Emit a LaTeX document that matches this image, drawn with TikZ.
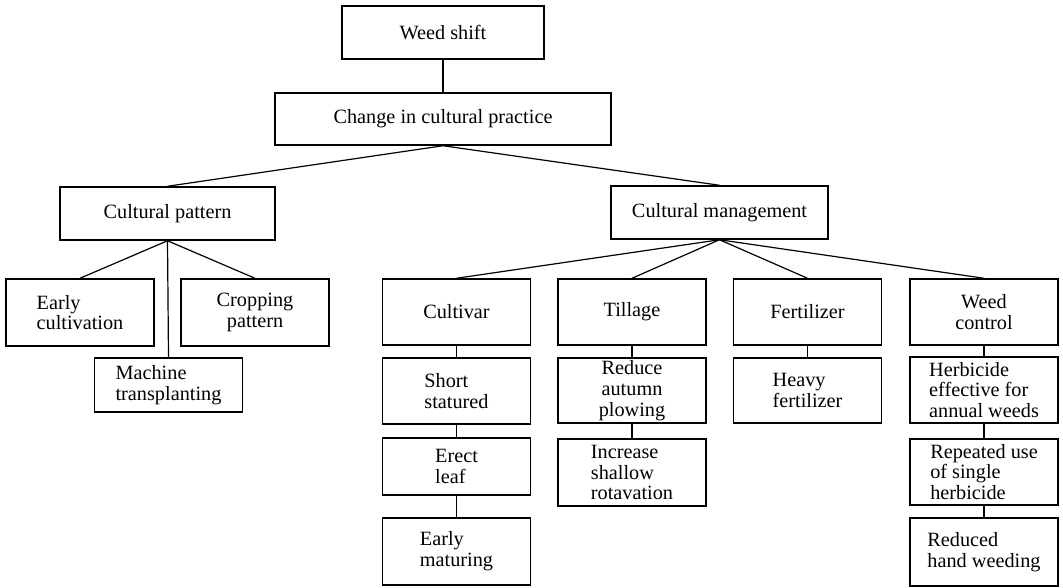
\documentclass[tikz,border=0pt]{standalone}
\usepackage{fontspec}
\setmainfont{Liberation Serif}
\usetikzlibrary{positioning}

\begin{document}
\begin{tikzpicture}[x=0.75pt,y=-0.75pt, every node/.style={font=\fontsize{15.2}{15.6}\selectfont},
  box/.style={draw,line width=1.1pt,inner sep=1pt,align=center},
  leaf/.style={box,minimum width=111pt},
  link/.style={line width=0.9pt}]
\useasboundingbox[fill=white] (0,0) rectangle (1063,587);
% top of the tree
\node[box,minimum width=151.5pt,minimum height=39.75pt] (shift) at (443,32.5) {Weed shift};
\node[box,minimum width=252pt,minimum height=39pt] (practice) at (443,119) {Change in cultural practice};
\node[box,minimum width=161.25pt,minimum height=39.75pt] (pattern) at (167.5,213.5) {Cultural pattern};
\node[box,minimum width=162.75pt,minimum height=39.75pt] (manage) at (719.5,212.5) {Cultural management};
% cultural pattern branch
\node[leaf,minimum height=50.25pt,align=left] (early) at (80,312.5) {Early\\cultivation};
\node[leaf,minimum height=50.25pt] (cropping) at (255,312.5) {Cropping\\pattern};
\node[leaf,minimum height=40.5pt,align=left] (machine) at (168.5,385) {Machine\\transplanting};
% cultural management branch
\node[leaf,minimum height=49.5pt] (cultivar) at (456.5,312) {Cultivar};
\node[leaf,minimum height=49.5pt] (tillage) at (632,312) {Tillage};
\node[leaf,minimum height=49.5pt] (fertilizer) at (807.5,312) {Fertilizer};
\node[leaf,minimum height=49.5pt] (control) at (984,312) {Weed\\control};
\node[leaf,minimum height=49.5pt,align=left] (short) at (456.5,391) {Short\\statured};
\node[leaf,minimum height=42.75pt,align=left] (erect) at (456.5,466.5) {Erect\\leaf};
\node[leaf,minimum height=50.25pt,align=left] (maturing) at (456.5,551.5) {Early\\maturing};
\node[leaf,minimum height=48.75pt] (plowing) at (632,390.5) {Reduce\\autumn\\plowing};
\node[leaf,minimum height=50.25pt,align=left] (rotavation) at (632,472.5) {Increase\\shallow\\rotavation};
\node[leaf,minimum height=48.75pt,align=left] (heavy) at (807.5,390.5) {Heavy\\fertilizer};
\node[leaf,minimum height=49.5pt,align=left] (annual) at (984,390) {Herbicide\\effective for\\annual weeds};
\node[leaf,minimum height=49.5pt,align=left] (repeated) at (984,472) {Repeated use\\of single\\herbicide};
\node[leaf,minimum height=51pt,align=left] (hand) at (984,552) {Reduced\\hand weeding};
% connectors
\foreach \p/\q in {shift/practice,practice/pattern,practice/manage,pattern/early,pattern/cropping,pattern/machine,manage/cultivar,manage/tillage,manage/fertilizer,manage/control,cultivar/short,short/erect,erect/maturing,tillage/plowing,plowing/rotavation,fertilizer/heavy,control/annual,annual/repeated,repeated/hand}{\draw[link] (\p.south) -- (\q.north);}
\end{tikzpicture}
\end{document}
